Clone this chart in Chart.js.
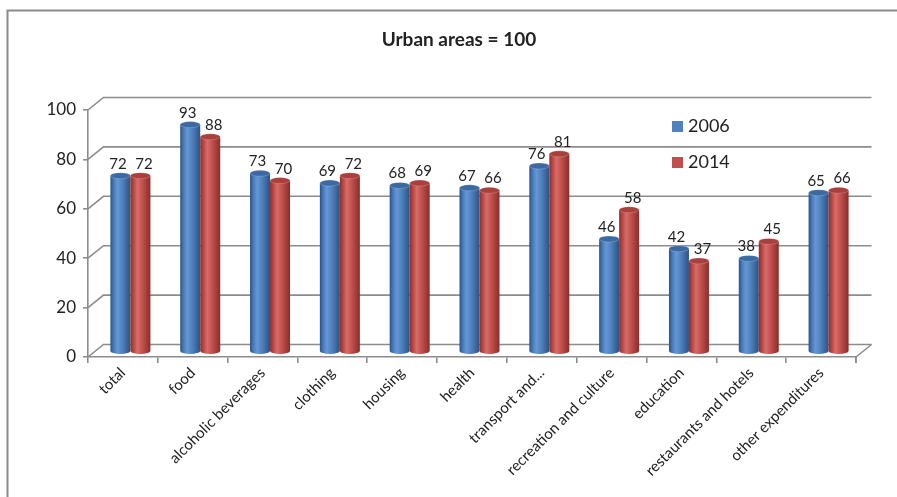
<!DOCTYPE html>
<html>
<head>
<meta charset="utf-8">
<script src="https://cdn.jsdelivr.net/npm/chart.js@4/dist/chart.umd.min.js"></script>
<style>
  html, body { margin: 0; padding: 0; background: #fff; }
  #wrap { width: 897px; height: 497px; position: relative; }
</style>
</head>
<body>
<div id="wrap"><canvas id="c" width="897" height="497"></canvas></div>
<script>
// Spending relative to urban areas (urban = 100)
const categories = [
  'total', 'food', 'alcoholic beverages', 'clothing', 'housing', 'health',
  'transport and...', 'recreation and culture', 'education',
  'restaurants and hotels', 'other expenditures'
];
const values2006 = [72, 93, 73, 69, 68, 67, 76, 46, 42, 38, 65];
const values2014 = [72, 88, 70, 72, 69, 66, 81, 58, 37, 45, 66];
const seriesNames = ['2006', '2014'];
const seriesColors = ['#4f81bd', '#c0504d'];
const yTicks = [0, 20, 40, 60, 80, 100];
const chartTitle = 'Urban areas = 100';

const FONT = 'Lato, "Liberation Sans", sans-serif';
const GRID = '#8c8c8c';
const TEXT = '#222';
// depth of the 3D box: back wall offset from the front axis
const DEPTH_X = 15.5, DEPTH_Y = -12.5;
// bars stand half way into the box
const BAR_DX = 7.5;

const palette = [
  { top: '#3b69a2', stops: ['#2b5387', '#4a7dbb', '#6497d4', '#4f81bd', '#2c5282'] },
  { top: '#ab3f3c', stops: ['#8d2f2c', '#bb4a47', '#d86c68', '#c0504d', '#8a2d2a'] }
];

function cylinder(ctx, cx, yTop, yBase, w, pal) {
  const rx = w / 2, ry = 3;
  const g = ctx.createLinearGradient(cx - rx, 0, cx + rx, 0);
  const st = [0, 0.18, 0.35, 0.6, 1];
  pal.stops.forEach((c, i) => g.addColorStop(st[i], c));
  ctx.save();
  ctx.fillStyle = g;
  ctx.beginPath();
  ctx.moveTo(cx - rx, yTop);
  ctx.lineTo(cx - rx, yBase);
  ctx.ellipse(cx, yBase, rx, ry, 0, Math.PI, 0, true);
  ctx.lineTo(cx + rx, yTop);
  ctx.closePath();
  ctx.fill();
  // top cap
  ctx.beginPath();
  ctx.ellipse(cx, yTop, rx, ry, 0, 0, Math.PI * 2);
  ctx.fillStyle = pal.top;
  ctx.fill();
  ctx.lineWidth = 0.8;
  ctx.strokeStyle = 'rgba(255,255,255,0.25)';
  ctx.stroke();
  ctx.restore();
}

const box3d = {
  id: 'box3d',
  beforeDatasetsDraw(chart) {
    const { ctx, chartArea: a } = chart;
    const y = chart.scales.y;
    ctx.save();
    ctx.strokeStyle = GRID;
    ctx.lineWidth = 1.6;
    // back wall grid, joined to the front axis by slanted lines
    yTicks.forEach(v => {
      const py = y.getPixelForValue(v);
      ctx.beginPath();
      ctx.moveTo(a.left, py);
      ctx.lineTo(a.left + DEPTH_X, py + DEPTH_Y);
      ctx.lineTo(a.right + DEPTH_X, py + DEPTH_Y);
      ctx.stroke();
    });
    // right edge of the floor
    const py0 = y.getPixelForValue(0);
    ctx.beginPath();
    ctx.moveTo(a.right, py0);
    ctx.lineTo(a.right + DEPTH_X, py0 + DEPTH_Y);
    ctx.stroke();
    // closing tick at the end of the category axis
    ctx.beginPath();
    ctx.moveTo(a.right, py0);
    ctx.lineTo(a.right, py0 + 6);
    ctx.stroke();
    ctx.restore();
  },
  afterDatasetsDraw(chart) {
    const { ctx } = chart;
    const metas = [chart.getDatasetMeta(0), chart.getDatasetMeta(1)];
    for (let i = 0; i < categories.length; i++) {
      metas.forEach((m, d) => {
        const el = m.data[i];
        cylinder(ctx, el.x + BAR_DX, el.y, el.base, el.width, palette[d]);
      });
    }
    // value labels
    ctx.save();
    ctx.font = '15px ' + FONT;
    ctx.fillStyle = TEXT;
    ctx.textAlign = 'center';
    ctx.textBaseline = 'alphabetic';
    metas.forEach((m, d) => {
      const vals = chart.data.datasets[d].data;
      m.data.forEach((el, i) => {
        const lx = el.x + BAR_DX + (d === 0 ? -2.5 : 3.5);
        ctx.fillText(String(vals[i]), lx, el.y - 7);
      });
    });
    ctx.restore();
  },
  afterDraw(chart) {
    const { ctx } = chart;
    ctx.save();
    // outer frame
    ctx.strokeStyle = '#8a8a8a';
    ctx.lineWidth = 2;
    ctx.beginPath();
    ctx.moveTo(7.5, 500);
    ctx.lineTo(7.5, 10.5);
    ctx.lineTo(900, 10.5);
    ctx.stroke();
    // title
    ctx.fillStyle = TEXT;
    ctx.font = 'bold 19px ' + FONT;
    ctx.textAlign = 'center';
    ctx.textBaseline = 'middle';
    ctx.fillText(chartTitle, 459, 40);
    // legend
    ctx.font = '18px ' + FONT;
    ctx.textAlign = 'left';
    chart.data.datasets.forEach((ds, d) => {
      const ly = 126.5 + d * 36;
      ctx.fillStyle = seriesColors[d];
      ctx.fillRect(672, ly - 5.5, 11, 11);
      ctx.fillStyle = TEXT;
      ctx.fillText(ds.label, 688, ly);
    });
    ctx.restore();
  }
};

new Chart(document.getElementById('c'), {
  type: 'bar',
  data: {
    labels: categories,
    datasets: [
      // flat bars stay transparent; the plugin paints them as cylinders
      { label: seriesNames[0], data: values2006, backgroundColor: 'rgba(0,0,0,0)', yAxisID: 'yb' },
      { label: seriesNames[1], data: values2014, backgroundColor: 'rgba(0,0,0,0)', yAxisID: 'yb' }
    ]
  },
  options: {
    responsive: false,
    animation: false,
    devicePixelRatio: 1,
    layout: { padding: { left: 0, right: 41, top: 110, bottom: 0 } },
    datasets: { bar: { categoryPercentage: 0.573, barPercentage: 1.0 } },
    elements: { bar: { borderWidth: 0 } },
    plugins: { legend: { display: false }, title: { display: false }, tooltip: { enabled: false } },
    scales: {
      x: {
        grid: { display: true, drawOnChartArea: false, offset: true, tickLength: 6, color: GRID, lineWidth: 1.6 },
        border: { display: true, color: GRID, width: 1.6 },
        ticks: { autoSkip: false, maxRotation: 45, minRotation: 45, padding: 1, color: TEXT, font: { family: FONT, size: 15 } },
        afterFit(s) { s.height = 140; }
      },
      y: {
        min: 0, max: 100,
        afterBuildTicks(s) { s.ticks = yTicks.map(v => ({ value: v })); },
        grid: { display: true, drawOnChartArea: false, tickLength: 5, color: GRID, lineWidth: 1.6 },
        border: { display: true, color: GRID, width: 1.6 },
        ticks: { padding: 7, color: TEXT, font: { family: FONT, size: 17 } },
        afterFit(s) { s.width = 88; }
      },
      yb: { display: false, min: -2.5, max: 99 }
    }
  },
  plugins: [box3d]
});
</script>
</body>
</html>
